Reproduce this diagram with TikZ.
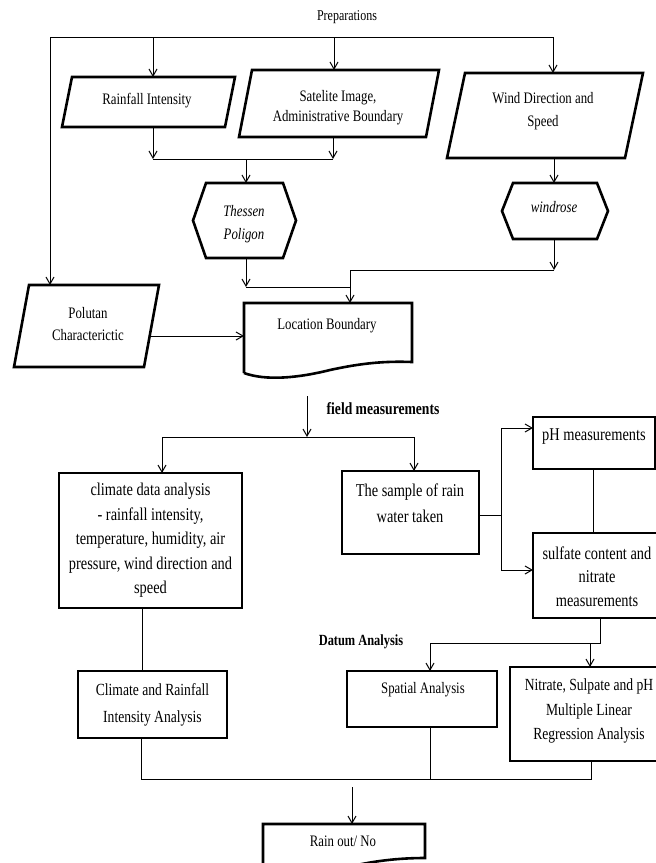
\documentclass[tikz,border=0pt]{standalone}
\usepackage{fontspec}
\setmainfont{Liberation Serif}[FakeStretch=0.8]
\usetikzlibrary{arrows.meta,calc}

\tikzset{
  conn/.style={line width=1pt},
  arr/.style={conn,-{Straight Barb[length=7pt,width=8pt]}},
  boxline/.style={line width=2.6pt,line join=miter},
  holder/.style={rectangle,inner sep=0pt,outer sep=0pt},
  rbox/.style={holder,draw,boxline,align=center},
  ta/.style={inner sep=0pt,align=center,font=\fontsize{16}{22}\selectfont},
  tb/.style={inner sep=0pt,align=center,font=\fontsize{18}{24.5}\selectfont},
  tbold/.style={inner sep=0pt,font=\bfseries\fontsize{17}{20}\selectfont},
}
\newcommand\drawpara[2]{\draw[boxline] ([xshift=#2]#1.north west) -- (#1.north east) -- ([xshift=-#2]#1.south east) -- (#1.south west) -- cycle;}
\newcommand\drawhex[2]{\draw[boxline] (#1.west) -- ([xshift=#2]#1.north west) -- ([xshift=-#2]#1.north east) -- (#1.east) -- ([xshift=-#2]#1.south east) -- ([xshift=#2]#1.south west) -- cycle;}

\begin{document}
\begin{tikzpicture}[x=1pt,y=-1pt]
\useasboundingbox (0,0) rectangle (656,863);
\clip (0,0) rectangle (656,863);

% ---------- preparations ----------
\node[ta,font=\fontsize{15}{18}\selectfont] (prep) at (347,17) {Preparations};

\node[holder,minimum width=173pt,minimum height=50pt] (rain) at (148.5,102) {};
\drawpara{rain}{10pt}
\node[ta] (raint) at (147,101) {Rainfall Intensity};

\node[holder,minimum width=200pt,minimum height=67pt] (sat) at (339,103.5) {};
\drawpara{sat}{13pt}
\node[ta,font=\fontsize{16}{20}\selectfont] (satt) at (338,108) {Satelite Image,\\Administrative Boundary};

\node[holder,minimum width=196pt,minimum height=85pt] (wind) at (545,115.5) {};
\drawpara{wind}{18pt}
\node[ta,font=\fontsize{16}{23}\selectfont] (windt) at (543,111.5) {Wind Direction and\\Speed};

\node[holder,minimum width=145pt,minimum height=82pt] (polu) at (86.5,326) {};
\drawpara{polu}{15pt}
\node[ta] (polut) at (88,324) {Polutan\\Characterictic};

\node[holder,minimum width=103pt,minimum height=75pt] (thes) at (244.5,220.5) {};
\drawhex{thes}{13pt}
\node[ta,font=\itshape\fontsize{16}{23}\selectfont] (thest) at (244,224.5) {Thessen\\Poligon};

\node[holder,minimum width=106pt,minimum height=56pt] (wrose) at (555,211) {};
\drawhex{wrose}{11pt}
\node[ta,font=\itshape\fontsize{16}{20}\selectfont] (wroset) at (554,207) {windrose};

\node[holder,minimum width=168pt,minimum height=70pt] (loc) at (328,338) {};
\draw[boxline] (loc.south west) -- (loc.north west) -- (loc.north east) -- ([yshift=11pt]loc.south east)
  .. controls (385,361) and (362,363) .. (330,370) .. controls (298,378) and (266,381) .. (loc.south west);
\node[ta] (loct) at (327,326) {Location Boundary};

% connectors (top)
\coordinate (tl) at (50,37);
\coordinate (tr) at (553,37);
\draw[conn] (tl) -- (tr);
\draw[arr] (tl) -- (tl |- polu.north);
\coordinate (a1) at (153,37);
\draw[arr] (a1) -- (a1 |- rain.north);
\coordinate (a2) at (334,37);
\draw[arr] (a2) -- (a2 |- sat.north);
\draw[arr] (tr) -- (tr |- wind.north);

\coordinate (m1) at (153,159);
\coordinate (m2) at (333,159);
\coordinate (m3) at (246,159);
\draw[arr] (m1 |- rain.south) -- (m1);
\draw[arr] (m2 |- sat.south) -- (m2);
\draw[conn] (m1) -- (m2);
\draw[arr] (m3) -- (m3 |- thes.north);
\coordinate (w0) at (554,150);
\draw[arr] (w0 |- wind.south) -- (w0 |- wrose.north);

\coordinate (t1) at (246,287);
\coordinate (j1) at (350,287);
\draw[arr] (t1 |- thes.south) -- (t1);
\draw[conn] (t1) -- (j1);
\coordinate (w1) at (554,270);
\coordinate (w2) at (350,270);
\draw[arr] (w1 |- wrose.south) -- (w1);
\draw[conn] (w1) -- (w2);
\draw[arr] (w2) -- (w2 |- loc.north);

\coordinate (pe) at ([shift={(-8,10)}]polu.east);
\draw[arr] (pe) -- (pe -| loc.west);

% ---------- field measurements ----------
\coordinate (f0) at (307,396);
\coordinate (f1) at (307,437);
\draw[arr] (f0) -- (f1);
\node[tbold] (fm) at (383,409) {field measurements};
\coordinate (f2) at (162,437);
\coordinate (f3) at (414,437);
\draw[conn] (f2) -- (f3);

\node[rbox,minimum width=183pt,minimum height=135pt,tb] (clim) at (150.5,540.5)
  {climate data analysis\\- rainfall intensity,\\temperature, humidity, air\\pressure, wind direction and\\speed};
\node[rbox,minimum width=137pt,minimum height=83pt] (samp) at (410.5,512.5) {};
\node[tb,font=\fontsize{18}{26}\selectfont] (sampt) at (410,503) {The sample of rain\\water taken};
\draw[arr] (f2) -- (f2 |- clim.north);
\draw[arr] (f3) -- (f3 |- samp.north);

\node[rbox,minimum width=122pt,minimum height=52pt] (ph) at (594,443) {};
\node[tb] (pht) at (594,437) {pH measurements};
\node[rbox,minimum width=137pt,minimum height=85pt] (sulf) at (601.5,575.5) {};
\node[tb,font=\fontsize{18}{23.5}\selectfont] (sulft) at (597,576.5) {sulfate content and\\nitrate\\measurements};

\coordinate (s1) at (501,515);
\coordinate (s2) at (501,428);
\coordinate (s3) at (501,570);
\draw[conn] (samp.east |- s1) -- (s1);
\draw[conn] (s2) -- (s3);
\draw[arr] (s2) -- (s2 -| ph.west);
\draw[arr] (s3) -- (s3 -| sulf.west);
\coordinate (p1) at (593,500);
\draw[conn] (p1 |- ph.south) -- (p1 |- sulf.north);

% ---------- datum analysis ----------
\node[tbold,font=\bfseries\fontsize{15.5}{18}\selectfont] (da) at (361,642) {Datum Analysis};
\node[rbox,minimum width=149pt,minimum height=67pt,tb,font=\fontsize{17}{27}\selectfont] (crain) at (152.5,704.5)
  {Climate and Rainfall\\Intensity Analysis};
\node[rbox,minimum width=160pt,minimum height=94pt] (nitr) at (590,714) {};
\node[tb,font=\fontsize{17}{24.5}\selectfont] (nitrt) at (589,711)
  {Nitrate, Sulpate and pH\\Multiple Linear\\Regression Analysis};
\node[rbox,minimum width=150pt,minimum height=56pt] (spat) at (422,699) {};
\node[tb,font=\fontsize{16}{20}\selectfont] (spatt) at (423,690) {Spatial Analysis};

\coordinate (c1) at (142,640);
\draw[conn] (c1 |- clim.south) -- (c1 |- crain.north);
\coordinate (d1) at (600,643);
\coordinate (d2) at (430,643);
\coordinate (d3) at (590,643);
\draw[conn] (d1 |- sulf.south) -- (d1) -- (d2);
\draw[arr] (d2) -- (d2 |- spat.north);
\draw[arr] (d3) -- (d3 |- nitr.north);

\coordinate (b1) at (141,779);
\coordinate (b2) at (430,779);
\coordinate (b3) at (591,779);
\draw[conn] (b1 |- crain.south) -- (b1) -- (b3) -- (b3 |- nitr.south);
\draw[conn] (b2 |- spat.south) -- (b2);

\node[holder,minimum width=162pt,minimum height=56pt] (rout) at (344,852) {};
\draw[boxline] (rout.south west) -- (rout.north west) -- (rout.north east) -- (425,858)
  .. controls (398,858) and (372,861) .. (344,868) .. controls (316,875) and (290,880) .. (rout.south west);
\node[tb,font=\fontsize{16}{20}\selectfont] (routt) at (343,841) {Rain out/ No};
\coordinate (r0) at (352,787);
\draw[arr] (r0) -- (r0 |- rout.north);
\end{tikzpicture}
\end{document}
